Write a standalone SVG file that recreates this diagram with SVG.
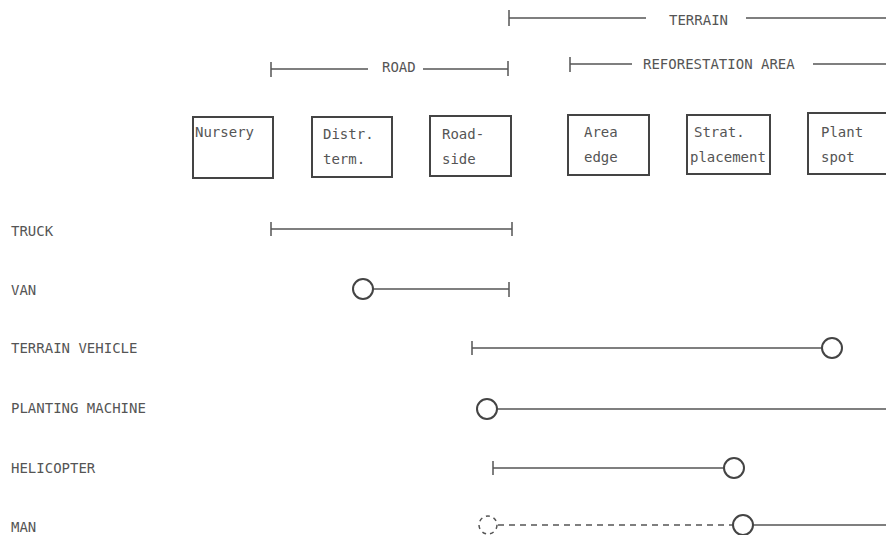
<svg xmlns="http://www.w3.org/2000/svg" width="886" height="535" viewBox="0 0 886 535">
<style>
text{font-family:"DejaVu Sans Mono","Liberation Mono",monospace;font-size:14px;fill:#555}
.box{fill:none;stroke:#444;stroke-width:2}
.ln{stroke:#555;stroke-width:1.5;fill:none}
.dash{stroke:#555;stroke-width:1.5;fill:none;stroke-dasharray:6 5}
.circ{fill:#fff;stroke:#444;stroke-width:2}
</style>
<rect width="886" height="535" fill="#fff"/>
<g id="headers">
<g id="terrain">
<path class="ln" d="M509 18H646M746 18H886M509 10V26"/>
<text x="669" y="25">TERRAIN</text>
</g>
<g id="road">
<path class="ln" d="M271 69H368M423 69H508M271 62V77M508 61V76"/>
<text x="382" y="72">ROAD</text>
</g>
<g id="reforestation">
<path class="ln" d="M570 64H632M813 64H886M570 57V72"/>
<text x="643" y="69">REFORESTATION AREA</text>
</g>
</g>
<g id="nursery"><rect class="box" x="193" y="117" width="80" height="61"/><text x="195" y="137">Nursery</text></g>
<g id="distr"><rect class="box" x="312" y="117" width="80" height="60"/><text x="323" y="139">Distr.</text><text x="323" y="164">term.</text></g>
<g id="roadside"><rect class="box" x="430" y="116" width="81" height="60"/><text x="442" y="139">Road-</text><text x="442" y="164">side</text></g>
<g id="areaedge"><rect class="box" x="568" y="115" width="81" height="60"/><text x="584" y="137">Area</text><text x="584" y="162">edge</text></g>
<g id="strat"><rect class="box" x="687" y="115" width="83" height="59"/><text x="694" y="137">Strat.</text><text x="690" y="162">placement</text></g>
<g id="plantspot"><rect class="box" x="808" y="113" width="90" height="61"/><text x="821" y="137">Plant</text><text x="821" y="162">spot</text></g>
<g id="labels">
<text x="11" y="236">TRUCK</text>
<text x="11" y="295">VAN</text>
<text x="11" y="353">TERRAIN VEHICLE</text>
<text x="11" y="413">PLANTING MACHINE</text>
<text x="11" y="473">HELICOPTER</text>
<text x="11" y="532">MAN</text>
</g>
<g id="connectors">
<g id="truck"><path class="ln" d="M271 229H512M271 222V236M512 222V236"/></g>
<g id="van"><path class="ln" d="M373 289H509M509 282V297"/><circle class="circ" cx="363" cy="289" r="10"/></g>
<g id="tv"><path class="ln" d="M472 348H822M472 341V355"/><circle class="circ" cx="832" cy="348" r="10"/></g>
<g id="pm"><path class="ln" d="M497 409H886"/><circle class="circ" cx="487" cy="409" r="10"/></g>
<g id="heli"><path class="ln" d="M493 468H724M493 461V475"/><circle class="circ" cx="734" cy="468" r="10"/></g>
<g id="man"><circle cx="488" cy="525" r="9" fill="none" stroke="#555" stroke-width="1.5" stroke-dasharray="4 4"/><path class="dash" d="M498 525H733"/><path class="ln" d="M753 525H886"/><circle class="circ" cx="743" cy="525" r="10"/></g>
</g>
</svg>
